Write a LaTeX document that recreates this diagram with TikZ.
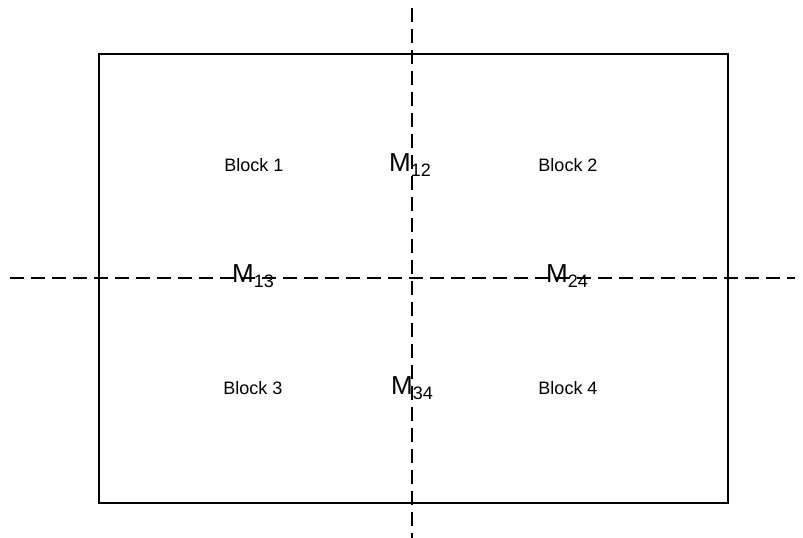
\documentclass[tikz,border=0pt]{standalone}
\usepackage{fontspec}
\setmainfont{Liberation Sans}
\tikzset{
  frame/.style={draw=black, line width=1.3pt},
  axis/.style={draw=black, line width=1.2pt, dash pattern=on 14pt off 7pt},
  blocklabel/.style={font=\fontsize{18}{20}\selectfont, inner sep=0pt},
  mlabel/.style={inner sep=0pt, anchor=west}
}
\newcommand{\mlab}[1]{{\fontsize{26}{28}\selectfont M}{\fontsize{18}{20}\selectfont\raisebox{-5pt}{#1}}}
\begin{document}
\begin{tikzpicture}[x=1pt,y=-1pt]
\useasboundingbox (0,0) rectangle (803,538);
\coordinate (tl) at (99,54);
\coordinate (br) at (728,503);
\draw[frame] (tl) rectangle (br);
\coordinate (vtop) at (412,8);
\coordinate (vbot) at (412,538);
\coordinate (hl) at (10,278);
\coordinate (hr) at (795,278);
\draw[axis] (vtop) -- (vbot);
\draw[axis] (hl) -- (hr);
\node[blocklabel] (b1) at (254,165) {Block 1};
\node[blocklabel] (b2) at (568,165) {Block 2};
\node[blocklabel] (b3) at (253,388) {Block 3};
\node[blocklabel] (b4) at (568,388) {Block 4};
\node[mlabel] (m12) at (389,165) {\mlab{12}};
\node[mlabel] (m13) at (232,276) {\mlab{13}};
\node[mlabel] (m24) at (546,276) {\mlab{24}};
\node[mlabel] (m34) at (391,388) {\mlab{34}};
\end{tikzpicture}
\end{document}
